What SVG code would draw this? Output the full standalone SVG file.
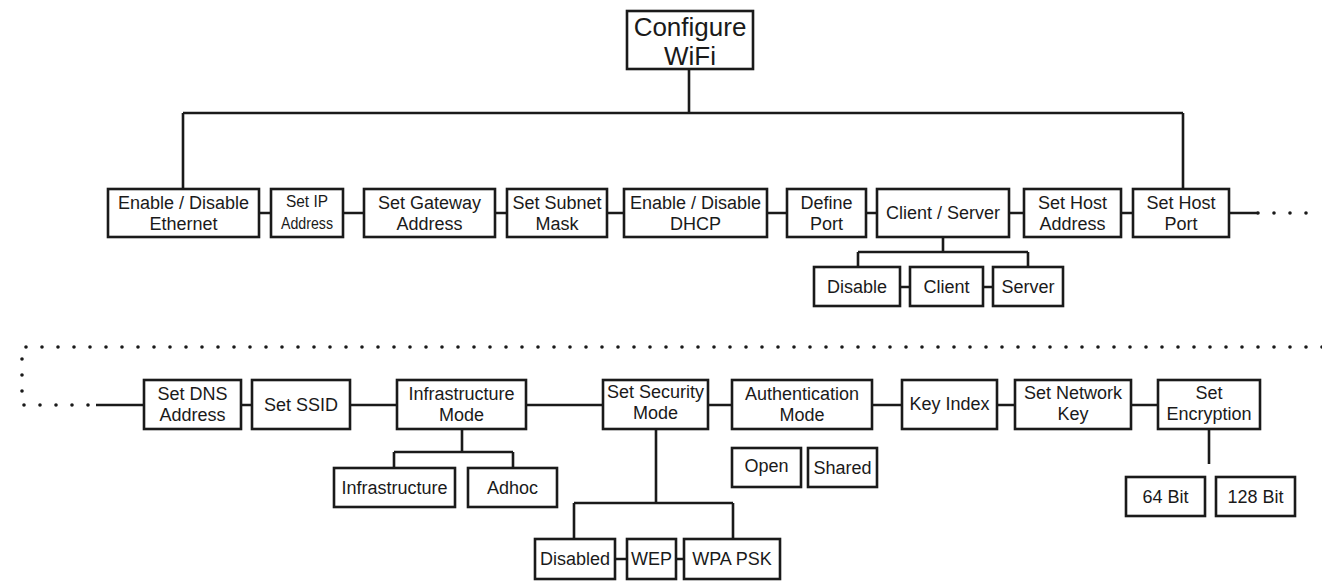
<svg xmlns="http://www.w3.org/2000/svg" width="1322" height="581" viewBox="0 0 1322 581">
<style>
.b{fill:#fff;stroke:#1a1a1a;stroke-width:2.6}
.t{font-family:"Liberation Sans",Arial,sans-serif;font-size:18px;fill:#1a1a1a;text-anchor:middle}
.s{font-size:16px}
.big{font-size:26px}
.c{fill:none;stroke:#1a1a1a;stroke-width:2.6}
.d{fill:none;stroke:#1a1a1a;stroke-width:3.6;stroke-linecap:round;stroke-dasharray:0 16}
</style>
<rect width="1322" height="581" fill="#fff"/>
<g id="connectors">
<path class="c" d="M689 69V113M183 113H1183M183 113V189M1183 113V189"/>
<path class="c" d="M259 213H271M343 213H364M495 213H507M607 213H624M767 213H787M866 213H877M1009 213H1024M1121 213H1133M1229 213H1258"/>
<path class="d" d="M1258 213H1322"/>
<path class="c" d="M943 237V252M858 252H1028M858 252V267M1028 252V267M900 287H910M983 287H993"/>
<path class="d" d="M1322 347H22V405H96"/>
<path class="c" d="M96 405H144M241 405H252M350 405H397M526 405H603M708 405H732M872 405H902M997 405H1015M1131 405H1158"/>
<path class="c" d="M462 429V452M394 452H513M394 452V468M513 452V468"/>
<path class="c" d="M656 429V503M574 503H733M574 503V539M733 503V539M615 559H627M676 559H684"/>
<path class="c" d="M1209 429V464"/>
</g>
<g id="configure"><rect class="b" x="627" y="11" width="126" height="58"/><text class="t big" x="690" y="36">Configure</text><text class="t big" x="690" y="65">WiFi</text></g>
<g id="eth"><rect class="b" x="108" y="189" width="151" height="48"/><text class="t" x="183.5" y="209">Enable / Disable</text><text class="t" x="183.5" y="230">Ethernet</text></g>
<g id="ip"><rect class="b" x="271" y="189" width="72" height="48"/><text class="t s" x="307" y="207" textLength="42" lengthAdjust="spacingAndGlyphs">Set IP</text><text class="t s" x="307" y="229" textLength="52" lengthAdjust="spacingAndGlyphs">Address</text></g>
<g id="gw"><rect class="b" x="364" y="189" width="131" height="48"/><text class="t" x="429.5" y="209">Set Gateway</text><text class="t" x="429.5" y="230">Address</text></g>
<g id="subnet"><rect class="b" x="507" y="189" width="100" height="48"/><text class="t" x="557" y="209">Set Subnet</text><text class="t" x="557" y="230">Mask</text></g>
<g id="dhcp"><rect class="b" x="624" y="189" width="143" height="48"/><text class="t" x="695.5" y="209">Enable / Disable</text><text class="t" x="695.5" y="230">DHCP</text></g>
<g id="port"><rect class="b" x="787" y="189" width="79" height="48"/><text class="t" x="826.5" y="209">Define</text><text class="t" x="826.5" y="230">Port</text></g>
<g id="cs"><rect class="b" x="877" y="189" width="132" height="48"/><text class="t" x="943" y="219">Client / Server</text></g>
<g id="hostaddr"><rect class="b" x="1024" y="189" width="97" height="48"/><text class="t" x="1072.5" y="209">Set Host</text><text class="t" x="1072.5" y="230">Address</text></g>
<g id="hostport"><rect class="b" x="1133" y="189" width="96" height="48"/><text class="t" x="1181" y="209">Set Host</text><text class="t" x="1181" y="230">Port</text></g>
<g id="disable"><rect class="b" x="814" y="267" width="86" height="39"/><text class="t" x="857" y="293">Disable</text></g>
<g id="client"><rect class="b" x="910" y="267" width="73" height="39"/><text class="t" x="946.5" y="293">Client</text></g>
<g id="server"><rect class="b" x="993" y="267" width="70" height="39"/><text class="t" x="1028" y="293">Server</text></g>
<g id="dns"><rect class="b" x="144" y="380" width="97" height="49"/><text class="t" x="192.5" y="400">Set DNS</text><text class="t" x="192.5" y="421">Address</text></g>
<g id="ssid"><rect class="b" x="252" y="380" width="98" height="49"/><text class="t" x="301" y="411">Set SSID</text></g>
<g id="infmode"><rect class="b" x="397" y="380" width="129" height="49"/><text class="t" x="461.5" y="400">Infrastructure</text><text class="t" x="461.5" y="421">Mode</text></g>
<g id="secmode"><rect class="b" x="603" y="380" width="105" height="49"/><text class="t" x="655.5" y="398">Set Security</text><text class="t" x="655.5" y="419">Mode</text></g>
<g id="authmode"><rect class="b" x="732" y="380" width="140" height="49"/><text class="t" x="802" y="400">Authentication</text><text class="t" x="802" y="421">Mode</text></g>
<g id="keyindex"><rect class="b" x="902" y="380" width="95" height="49"/><text class="t" x="949.5" y="410">Key Index</text></g>
<g id="netkey"><rect class="b" x="1015" y="380" width="116" height="49"/><text class="t" x="1073" y="399">Set Network</text><text class="t" x="1073" y="420">Key</text></g>
<g id="enc"><rect class="b" x="1158" y="380" width="102" height="49"/><text class="t" x="1209" y="399">Set</text><text class="t" x="1209" y="420">Encryption</text></g>
<g id="infra"><rect class="b" x="334" y="468" width="121" height="39"/><text class="t" x="394.5" y="494">Infrastructure</text></g>
<g id="adhoc"><rect class="b" x="468" y="468" width="89" height="39"/><text class="t" x="512.5" y="494">Adhoc</text></g>
<g id="open"><rect class="b" x="732" y="448" width="69" height="39"/><text class="t" x="766.5" y="472">Open</text></g>
<g id="shared"><rect class="b" x="808" y="448" width="69" height="39"/><text class="t" x="842.5" y="474">Shared</text></g>
<g id="disabled"><rect class="b" x="535" y="539" width="80" height="40"/><text class="t" x="575" y="565">Disabled</text></g>
<g id="wep"><rect class="b" x="627" y="539" width="49" height="40"/><text class="t" x="651.5" y="565">WEP</text></g>
<g id="wpa"><rect class="b" x="684" y="539" width="96" height="40"/><text class="t" x="732" y="565">WPA PSK</text></g>
<g id="bit64"><rect class="b" x="1126" y="477" width="79" height="39"/><text class="t" x="1165.5" y="503">64 Bit</text></g>
<g id="bit128"><rect class="b" x="1216" y="477" width="79" height="39"/><text class="t" x="1255.5" y="503">128 Bit</text></g>
</svg>
